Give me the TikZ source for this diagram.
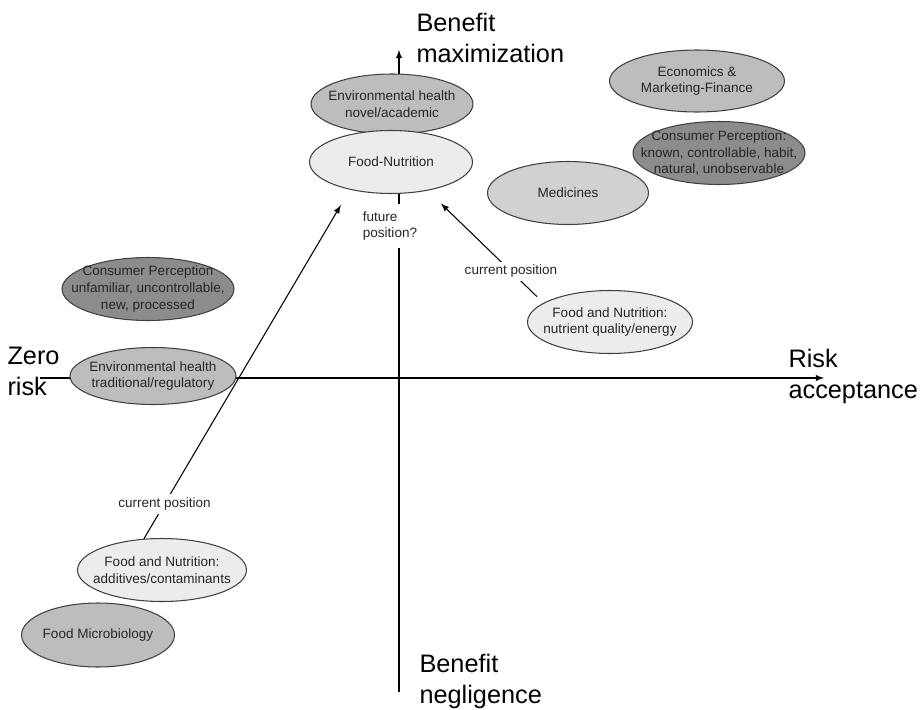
\documentclass[tikz,border=0pt]{standalone}
\usepackage{fontspec}
\setmainfont{Liberation Sans}
\usetikzlibrary{shapes.geometric}

\definecolor{dgray}{gray}{0.55}
\definecolor{mgray}{gray}{0.74}
\definecolor{pgray}{gray}{0.82}
\definecolor{lgray}{gray}{0.925}

\begin{document}
\begin{tikzpicture}[x=0.02cm,y=-0.02cm,line width=0.6pt,
 blob/.style={ellipse,draw=black!75,line width=0.6pt,inner sep=0pt,minimum height=1.26cm},
 darkblob/.style={blob,fill=dgray},
 midblob/.style={blob,fill=mgray},
 liteblob/.style={blob,fill=lgray},
 txt/.style={font=\fontsize{7.7}{9.6}\selectfont,align=center,inner sep=0pt,text=black!85},
 tag/.style={txt,fill=white,inner sep=2pt},
 axlabel/.style={font=\fontsize{14.4}{17.5}\selectfont,align=left,anchor=north west,inner sep=0pt}]
\useasboundingbox (0,0) rectangle (920,710);

% axes
\coordinate (yb) at (399,692);
\coordinate (yt) at (399,50);
\coordinate (xl) at (40,378);
\coordinate (xr) at (824,378);
\draw[-latex] (yb) -- (yt);
\draw[-latex] (xl) -- (xr);

\node[axlabel] (bmax) at (416,13) {Benefit\\maximization};
\node[axlabel] (bneg) at (419,654) {Benefit\\negligence};
\node[axlabel] (zero) at (7,347) {Zero\\risk};
\node[axlabel] (racc) at (788,349) {Risk\\acceptance};

% fields
\node[midblob,minimum width=3.24cm,minimum height=1.2cm] (envN) at (392,104) {};
\node[txt] at (envN) {Environmental health\\novel/academic};
\node[liteblob,minimum width=3.26cm] (fn) at (391,162) {};
\node[txt] at (fn) {Food-Nutrition};

\node[midblob,minimum width=3.5cm,minimum height=1.24cm] (econ) at (697,81) {};
\node[txt] at (econ) {Economics \&\\Marketing-Finance};
\node[darkblob,minimum width=3.44cm] (cpk) at (719,153) {};
\node[txt] at (cpk) {Consumer Perception:\\known, controllable, habit,\\natural, unobservable};
\node[blob,fill=pgray,minimum width=3.22cm] (med) at (568,193) {};
\node[txt] at (med) {Medicines};
\node[liteblob,minimum width=3.3cm] (fnq) at (610,322) {};
\node[txt] at (fnq) {Food and Nutrition:\\nutrient quality/energy};

\node[darkblob,minimum width=3.44cm] (cpu) at (148,289) {};
\node[txt] at (cpu) {Consumer Perception\\unfamiliar, uncontrollable,\\new, processed};
\node[midblob,minimum width=3.32cm,minimum height=1.14cm] (envT) at (153,376) {};
\node[txt] at (envT) {Environmental health\\traditional/regulatory};
\node[liteblob,minimum width=3.38cm] (fna) at (162,570) {};
\node[txt] at (fna) {Food and Nutrition:\\additives/contaminants};
\node[midblob,minimum width=3.06cm,minimum height=1.28cm] (micro) at (98,635) {};
\node[txt] at (micro) {Food Microbiology};

\node[txt,fill=white,align=left,inner xsep=1pt,inner ysep=4pt] (fut) at (390,226) {future\\position?};

% moves
\draw[-latex,shorten >=0.36cm] (fna.120) -- (fn.214.5) node[pos=0.1,tag] {current position};
\draw[-latex,shorten <=0.18cm,shorten >=0.37cm] (fnq.164.5) -- (fn.322.7) node[pos=0.28,tag] {current position};
\end{tikzpicture}
\end{document}
